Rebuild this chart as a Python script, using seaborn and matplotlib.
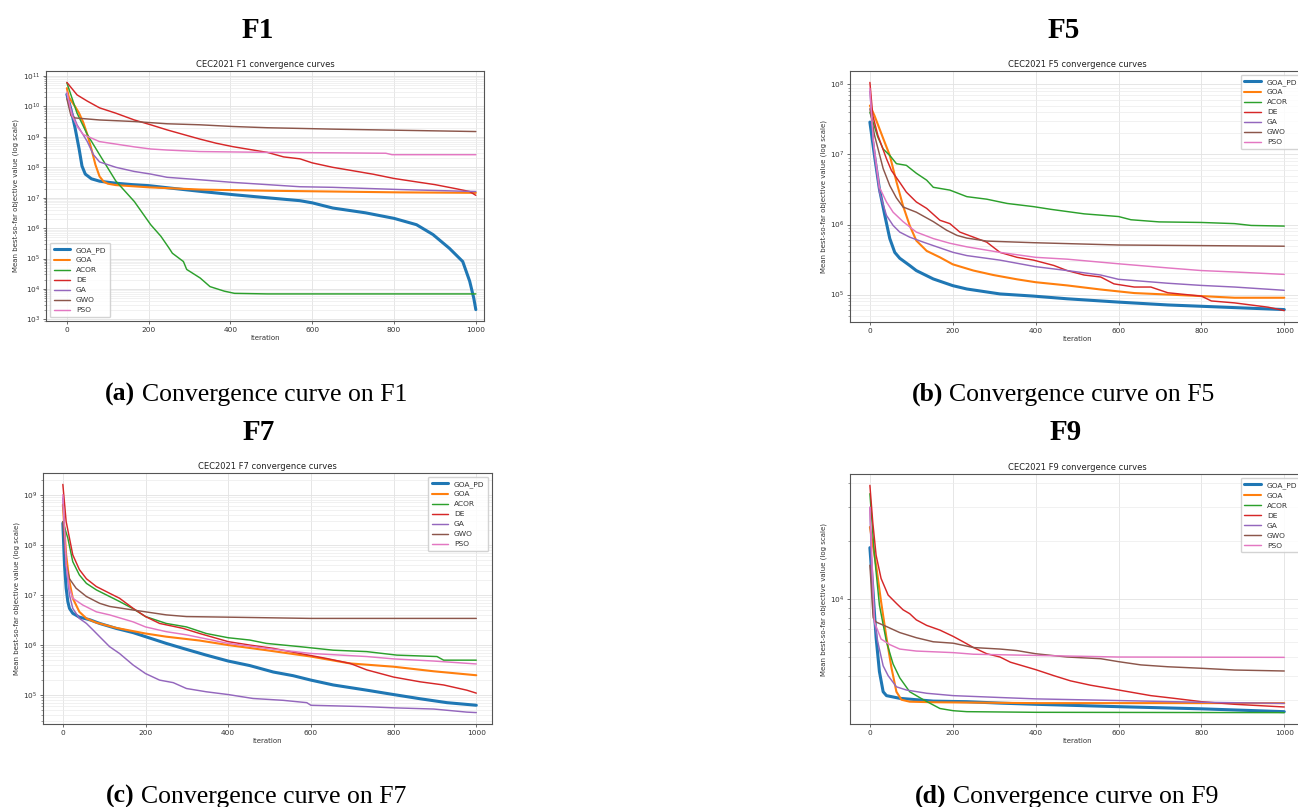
import numpy as np
import pandas as pd
import matplotlib
matplotlib.use('Agg')
import matplotlib.pyplot as plt
import seaborn as sns
from matplotlib.ticker import LogLocator

# =============================================================================
# Data (iteration, mean best-so-far)
# =============================================================================

algorithms = ['GOA_PD', 'GOA', 'ACOR', 'DE', 'GA', 'GWO', 'PSO']

# F1
f1_goa_pd = [(0, 2.5e10), (10, 8e9), (20, 2e9), (30, 4e8), (37, 1.1e8), (45, 6e7), (60, 4.2e7),
             (80, 3.5e7), (120, 3e7), (160, 2.7e7), (200, 2.5e7), (250, 2.1e7), (330, 1.6e7),
             (410, 1.25e7), (490, 1.0e7), (570, 8e6), (600, 6.8e6), (650, 4.6e6), (730, 3.2e6),
             (800, 2.1e6), (855, 1.3e6), (895, 6.2e5), (935, 2.2e5), (968, 8e4), (985, 1.8e4),
             (995, 5e3), (1000, 2.1e3)]
f1_goa = [(0, 4e10), (5, 2e10), (20, 1e10), (30, 6e9), (40, 3e9), (50, 1.2e9), (60, 4e8),
          (70, 1.2e8), (80, 5e7), (90, 3.4e7), (100, 2.9e7), (120, 2.6e7), (200, 2.2e7),
          (330, 1.85e7), (490, 1.7e7), (650, 1.6e7), (815, 1.5e7), (1000, 1.45e7)]
f1_acor = [(0, 6e10), (25, 6e9), (50, 1.2e9), (80, 2.6e8), (120, 3.5e7), (165, 7.5e6),
           (205, 1.3e6), (230, 5.4e5), (250, 2.2e5), (258, 1.5e5), (285, 8e4), (293, 4.4e4),
           (326, 2.3e4), (350, 1.2e4), (385, 8.5e3), (410, 7.2e3), (490, 6.9e3), (1000, 6.9e3)]
f1_de = [(0, 6.2e10), (25, 2.4e10), (50, 1.5e10), (80, 9e9), (120, 6e9), (165, 3.6e9),
         (205, 2.5e9), (245, 1.7e9), (285, 1.2e9), (325, 8.5e8), (365, 6.2e8), (405, 4.8e8),
         (450, 3.8e8), (490, 3.1e8), (530, 2.2e8), (570, 1.9e8), (600, 1.4e8), (650, 1.0e8),
         (700, 7.7e7), (750, 5.9e7), (800, 4.3e7), (850, 3.4e7), (900, 2.7e7), (950, 2e7),
         (985, 1.6e7), (1000, 1.2e7)]
f1_ga = [(0, 2.5e10), (10, 8e9), (25, 2.5e9), (50, 7e8), (65, 2.6e8), (80, 1.5e8), (120, 1e8),
         (165, 7.3e7), (205, 6e7), (245, 4.7e7), (325, 3.9e7), (405, 3.2e7), (490, 2.7e7),
         (570, 2.3e7), (650, 2.2e7), (815, 1.86e7), (1000, 1.6e7)]
f1_gwo = [(0, 1.8e10), (10, 5e9), (20, 4.2e9), (80, 3.6e9), (165, 3.2e9), (245, 2.7e9),
          (325, 2.5e9), (405, 2.2e9), (490, 2e9), (570, 1.9e9), (650, 1.8e9), (815, 1.65e9),
          (1000, 1.5e9)]
f1_pso = [(0, 3e10), (12, 5.3e9), (25, 2.2e9), (40, 1.2e9), (80, 7e8), (120, 5.8e8), (165, 4.7e8),
          (205, 4e8), (245, 3.7e8), (325, 3.3e8), (490, 3.1e8), (650, 3e8), (780, 2.9e8),
          (795, 2.6e8), (1000, 2.6e8)]

# F5
f5_goa_pd = [(0, 2.9e7), (11, 9.7e6), (23, 3.2e6), (36, 1.35e6), (48, 6.3e5), (60, 4e5),
             (72, 3.3e5), (96, 2.6e5), (112, 2.2e5), (153, 1.67e5), (200, 1.34e5), (234, 1.2e5),
             (314, 1.02e5), (395, 9.5e4), (476, 8.7e4), (600, 7.8e4), (719, 7.1e4), (800, 6.8e4),
             (1000, 6.1e4)]
f5_goa = [(0, 5e7), (11, 3.6e7), (32, 1.7e7), (48, 9.7e6), (64, 4.1e6), (80, 1.85e6), (96, 9.7e5),
          (112, 5.9e5), (137, 4.2e5), (169, 3.4e5), (200, 2.7e5), (250, 2.2e5), (298, 1.9e5),
          (355, 1.65e5), (400, 1.5e5), (476, 1.35e5), (557, 1.18e5), (638, 1.05e5), (719, 1e5),
          (800, 9.5e4), (880, 9e4), (1000, 9e4)]
f5_acor = [(0, 4e7), (19, 1.78e7), (32, 1.2e7), (48, 9.7e6), (64, 7.4e6), (88, 7e6), (112, 5.4e6),
           (137, 4.3e6), (153, 3.4e6), (193, 3.1e6), (234, 2.5e6), (282, 2.3e6), (331, 2e6),
           (395, 1.8e6), (436, 1.65e6), (517, 1.42e6), (600, 1.3e6), (630, 1.17e6),
           (698, 1.09e6), (800, 1.07e6), (880, 1.03e6), (920, 9.7e5), (1000, 9.5e5)]
f5_de = [(0, 1.07e8), (7, 3.6e7), (19, 1.9e7), (40, 8.7e6), (52, 5.9e6), (72, 4e6), (88, 2.9e6),
         (112, 2.1e6), (137, 1.7e6), (169, 1.15e6), (193, 1.03e6), (217, 7.8e5), (250, 6.6e5),
         (282, 5.6e5), (314, 4e5), (355, 3.4e5), (395, 3.1e5), (444, 2.6e5), (476, 2.2e5),
         (517, 1.9e5), (557, 1.78e5), (589, 1.42e5), (638, 1.28e5), (678, 1.28e5), (719, 1.06e5),
         (800, 9.5e4), (824, 8.1e4), (880, 7.6e4), (961, 6.6e4), (1000, 5.9e4)]
f5_ga = [(0, 8e7), (11, 9.8e6), (23, 2.9e6), (40, 1.35e6), (56, 9.7e5), (72, 7.8e5), (96, 6.6e5),
         (129, 5.6e5), (153, 5e5), (201, 4e5), (234, 3.6e5), (314, 3.1e5), (400, 2.5e5),
         (476, 2.2e5), (557, 1.9e5), (600, 1.65e5), (719, 1.45e5), (800, 1.35e5), (880, 1.28e5),
         (1000, 1.15e5)]
f5_gwo = [(0, 4.5e7), (11, 1.9e7), (32, 6.3e6), (48, 3.6e6), (64, 2.4e6), (80, 1.78e6),
          (112, 1.5e6), (153, 1.1e6), (185, 8.3e5), (210, 7e5), (234, 6.4e5), (282, 5.8e5),
          (395, 5.5e5), (600, 5.1e5), (1000, 4.9e5)]
f5_pso = [(0, 8.8e7), (8, 1.6e7), (23, 3.4e6), (40, 2.1e6), (56, 1.5e6), (80, 1.1e6), (112, 7.8e5),
          (153, 6.3e5), (193, 5.4e5), (234, 4.8e5), (314, 4e5), (400, 3.4e5), (476, 3.2e5),
          (600, 2.75e5), (719, 2.4e5), (800, 2.2e5), (880, 2.1e5), (1000, 1.94e5)]

# F7
f7_goa_pd = [(0, 2.7e8), (4, 4e7), (8, 1.36e7), (12, 7.4e6), (16, 5.4e6), (24, 4.3e6), (40, 3.6e6),
             (65, 3.2e6), (89, 2.7e6), (129, 2.15e6), (170, 1.77e6), (200, 1.47e6), (250, 1.08e6),
             (299, 8.2e5), (347, 6.3e5), (400, 4.8e5), (452, 3.9e5), (509, 2.9e5), (557, 2.45e5),
             (600, 2e5), (654, 1.6e5), (735, 1.26e5), (800, 1.03e5), (864, 8.5e4), (929, 7.1e4),
             (1000, 6.3e4)]
f7_goa = [(0, 6.3e8), (8, 6.3e7), (16, 1.85e7), (24, 8.6e6), (40, 4.6e6), (57, 3.4e6), (81, 2.8e6),
          (129, 2.2e6), (200, 1.7e6), (250, 1.47e6), (331, 1.23e6), (400, 1e6), (492, 7.9e5),
          (600, 5.9e5), (695, 4.3e5), (800, 3.7e5), (897, 3e5), (1000, 2.5e5)]
f7_acor = [(0, 2.9e8), (12, 1.36e8), (24, 4.6e7), (40, 2.5e7), (57, 1.7e7), (81, 1.26e7),
           (113, 9.3e6), (137, 7.4e6), (170, 5.3e6), (200, 3.7e6), (250, 2.7e6), (299, 2.3e6),
           (347, 1.7e6), (400, 1.4e6), (452, 1.26e6), (492, 1.08e6), (573, 9.3e5), (654, 7.9e5),
           (735, 7.4e5), (808, 6.3e5), (905, 5.9e5), (921, 5e5), (1000, 5e5)]
f7_de = [(0, 1.6e9), (8, 2.9e8), (16, 1.36e8), (24, 6.3e7), (40, 3.2e7), (57, 2.1e7), (81, 1.47e7),
         (113, 1.08e7), (137, 8.6e6), (170, 5.4e6), (200, 3.7e6), (234, 2.7e6), (291, 2.15e6),
         (331, 1.7e6), (400, 1.17e6), (452, 1e6), (509, 8.6e5), (573, 6.8e5), (638, 5.4e5),
         (695, 4.3e5), (735, 3.2e5), (800, 2.3e5), (864, 1.85e5), (921, 1.6e5), (977, 1.26e5),
         (1000, 1.1e5)]
f7_ga = [(0, 8.6e8), (8, 4e7), (16, 1e7), (24, 5.4e6), (40, 3.4e6), (57, 2.7e6), (73, 2e6),
         (89, 1.47e6), (113, 9.3e5), (137, 6.8e5), (170, 4e5), (200, 2.7e5), (234, 2e5),
         (267, 1.78e5), (299, 1.36e5), (347, 1.17e5), (400, 1.03e5), (460, 8.6e4), (533, 7.9e4),
         (590, 7.1e4), (600, 6.3e4), (735, 5.9e4), (800, 5.6e4), (897, 5.3e4), (977, 4.6e4),
         (1000, 4.5e4)]
f7_gwo = [(0, 2.9e8), (8, 4e7), (16, 2.1e7), (32, 1.36e7), (57, 9.3e6), (89, 6.8e6), (113, 5.9e6),
          (170, 5e6), (200, 4.6e6), (250, 4e6), (299, 3.7e6), (400, 3.6e6), (600, 3.4e6),
          (1000, 3.4e6)]
f7_pso = [(0, 1e9), (8, 4e7), (16, 1.36e7), (24, 8.6e6), (48, 6.3e6), (81, 4.6e6), (113, 4e6),
          (170, 2.9e6), (200, 2.3e6), (250, 1.85e6), (299, 1.6e6), (400, 1.08e6), (492, 8.6e5),
          (600, 6.8e5), (735, 5.9e5), (800, 5.3e5), (897, 4.8e5), (1000, 4.2e5)]

# F9
f9_goa_pd = [(0, 1.85e4), (7, 1.14e4), (15, 6.3e3), (23, 4.2e3), (32, 3.3e3), (40, 3.15e3),
             (72, 3.05e3), (153, 2.95e3), (234, 2.93e3), (314, 2.88e3), (400, 2.84e3),
             (600, 2.76e3), (800, 2.69e3), (1000, 2.6e3)]
f9_goa = [(0, 2.37e4), (15, 1.5e4), (27, 9.7e3), (40, 6.3e3), (52, 4.4e3), (64, 3.3e3), (76, 3e3),
          (96, 2.93e3), (153, 2.91e3), (400, 2.88e3), (1000, 2.88e3)]
f9_acor = [(0, 3.53e4), (11, 1.69e4), (23, 9.3e3), (40, 6e3), (56, 4.6e3), (72, 3.9e3), (96, 3.3e3),
           (129, 3e3), (169, 2.7e3), (201, 2.63e3), (234, 2.6e3), (400, 2.58e3), (1000, 2.57e3)]
f9_de = [(0, 3.9e4), (7, 2.5e4), (15, 1.69e4), (27, 1.28e4), (44, 1.05e4), (64, 9.5e3), (80, 8.8e3),
         (96, 8.4e3), (112, 7.8e3), (137, 7.3e3), (169, 6.9e3), (201, 6.4e3), (225, 6e3),
         (250, 5.6e3), (282, 5.2e3), (314, 5e3), (339, 4.7e3), (400, 4.3e3), (444, 4e3),
         (484, 3.76e3), (532, 3.57e3), (600, 3.37e3), (678, 3.15e3), (734, 3.05e3), (800, 2.93e3),
         (880, 2.84e3), (1000, 2.75e3)]
f9_ga = [(0, 3e4), (7, 8.6e3), (19, 6e3), (32, 4.5e3), (44, 4e3), (64, 3.5e3), (88, 3.37e3),
         (137, 3.24e3), (201, 3.15e3), (314, 3.08e3), (400, 3.03e3), (600, 2.97e3), (800, 2.91e3),
         (1000, 2.87e3)]
f9_gwo = [(0, 1.5e4), (8, 8e3), (15, 7.6e3), (40, 7.2e3), (72, 6.7e3), (112, 6.3e3), (153, 6e3),
          (201, 5.9e3), (250, 5.6e3), (314, 5.5e3), (355, 5.4e3), (400, 5.2e3), (476, 5e3),
          (557, 4.9e3), (600, 4.73e3), (654, 4.55e3), (719, 4.45e3), (800, 4.37e3), (880, 4.28e3),
          (1000, 4.23e3)]
f9_pso = [(0, 3e4), (11, 7.6e3), (27, 6.2e3), (48, 5.8e3), (72, 5.5e3), (112, 5.37e3),
          (201, 5.27e3), (250, 5.17e3), (600, 5e3), (1000, 4.98e3)]

# =============================================================================
# Style
# =============================================================================

sns.set_style('white')
plt.rcParams['font.family'] = ['DejaVu Sans']
plt.rcParams['axes.edgecolor'] = '#555555'
plt.rcParams['axes.linewidth'] = 0.8

W, H = 1298, 807
palette = sns.color_palette('tab10', 7)
widths = [2.2, 1.5, 1.05, 1.05, 1.05, 1.05, 1.05]
serif = ['Liberation Serif', 'DejaVu Serif']

fig = plt.figure(figsize=(W / 100, H / 100), dpi=100)


def px_axes(left, right, top, bottom):
    return fig.add_axes([left / W, 1 - bottom / H, (right - left) / W, (bottom - top) / H])


def draw_panel(ax, name, curves, xlim, loc):
    rows = []
    for algo, pts in zip(algorithms, curves):
        for it, val in pts:
            rows.append((algo, it, val))
    df = pd.DataFrame(rows, columns=['Algorithm', 'Iteration', 'Value'])
    ax.set_yscale('log')
    for algo, col, lw in zip(algorithms, palette, widths):
        sns.lineplot(data=df[df['Algorithm'] == algo], x='Iteration', y='Value',
                     color=col, linewidth=lw, label=algo, ax=ax,
                     estimator=None, sort=False)
    ax.set_xlim(*xlim)
    ax.yaxis.set_major_locator(LogLocator(base=10, numticks=20))
    ax.yaxis.set_minor_locator(LogLocator(base=10, subs=np.arange(2, 10), numticks=20))
    ax.grid(True, which='major', color='#e2e2e2', linewidth=0.6)
    ax.grid(True, which='minor', axis='y', color='#ececec', linewidth=0.5)
    ax.set_axisbelow(True)
    ax.tick_params(which='major', bottom=True, left=True, length=2.5, width=0.6,
                   labelsize=5.3, pad=1.5, color='#555555', labelcolor='#333333')
    ax.tick_params(which='minor', left=True, length=1.4, width=0.4, color='#555555')
    ax.set_title(f'CEC2021 {name} convergence curves', fontsize=6, pad=3, color='#222222')
    ax.set_xlabel('Iteration', fontsize=5, labelpad=1.5, color='#333333')
    ax.set_ylabel('Mean best-so-far objective value (log scale)', fontsize=5, labelpad=2.5,
                  color='#333333')
    ax.legend(loc=loc, fontsize=5.4, frameon=True, framealpha=0.85, edgecolor='#cccccc',
              borderpad=0.5, handlelength=2.2, labelcolor='#333333')


# right-hand panels run slightly past the page edge, as in the source figure
ax1 = px_axes(46, 484, 71, 321)
draw_panel(ax1, 'F1', [f1_goa_pd, f1_goa, f1_acor, f1_de, f1_ga, f1_gwo, f1_pso],
           (-51, 1020), 'lower left')
ax2 = px_axes(850, 1305, 71, 322)
draw_panel(ax2, 'F5', [f5_goa_pd, f5_goa, f5_acor, f5_de, f5_ga, f5_gwo, f5_pso],
           (-48, 1050), 'upper right')
ax3 = px_axes(43, 492, 473, 724)
draw_panel(ax3, 'F7', [f7_goa_pd, f7_goa, f7_acor, f7_de, f7_ga, f7_gwo, f7_pso],
           (-48, 1038), 'upper right')
ax4 = px_axes(850, 1305, 474, 724)
draw_panel(ax4, 'F9', [f9_goa_pd, f9_goa, f9_acor, f9_de, f9_ga, f9_gwo, f9_pso],
           (-48, 1050), 'upper right')

# =============================================================================
# Page text: panel headings and sub-captions
# =============================================================================

for label, cx, yb in [('F1', 258, 38), ('F5', 1064, 38), ('F7', 259, 440), ('F9', 1066, 440)]:
    fig.text(cx / W, 1 - yb / H, label, family=serif, fontweight='bold', fontsize=21,
             ha='center', va='baseline', color='black')

renderer = fig.canvas.get_renderer()
cap_size = 18.5
gap = 0.25 * cap_size * 100 / 72
for tag, rest, cx, yb in [('(a)', 'Convergence curve on F1', 256, 401),
                          ('(b)', 'Convergence curve on F5', 1063, 401),
                          ('(c)', 'Convergence curve on F7', 256, 803),
                          ('(d)', 'Convergence curve on F9', 1067, 803)]:
    t1 = fig.text(0, 1 - yb / H, tag, family=serif, fontweight='bold', fontsize=cap_size,
                  ha='left', va='baseline', color='black')
    t2 = fig.text(0, 1 - yb / H, rest, family=serif, fontsize=cap_size,
                  ha='left', va='baseline', color='black')
    w1 = t1.get_window_extent(renderer).width
    w2 = t2.get_window_extent(renderer).width
    x0 = cx - (w1 + gap + w2) / 2
    t1.set_x(x0 / W)
    t2.set_x((x0 + w1 + gap) / W)

fig.savefig('out.png', dpi=100)
